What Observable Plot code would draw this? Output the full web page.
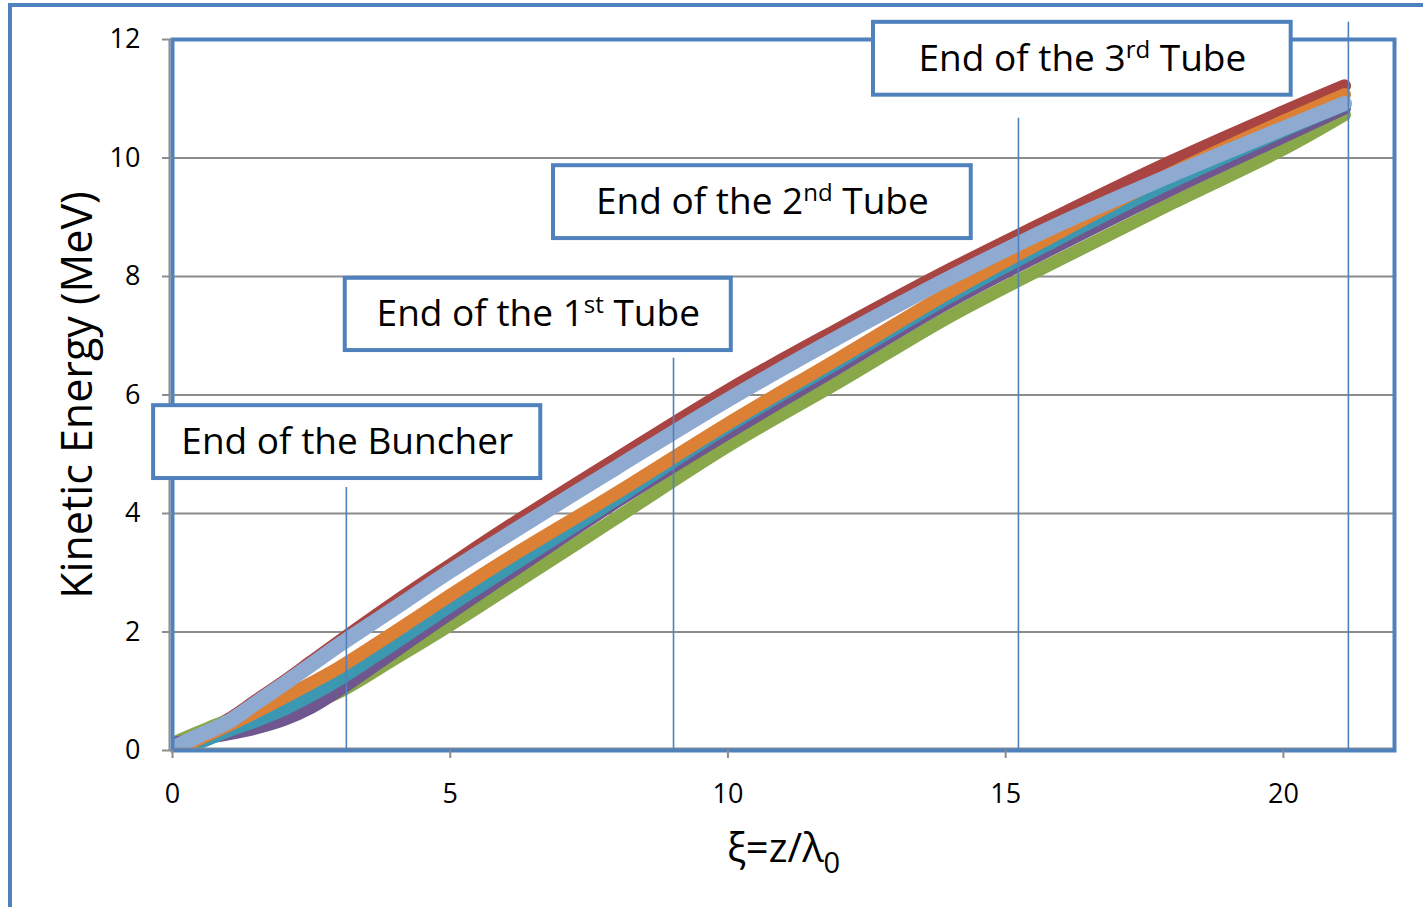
<!DOCTYPE html>
<html><head><meta charset="utf-8">
<script src="https://cdn.jsdelivr.net/npm/d3@7"></script>
<script src="https://cdn.jsdelivr.net/npm/@observablehq/plot@0.6"></script>
<style>
body{margin:0;background:#fff;}
#wrap{position:relative;width:1423px;height:907px;overflow:hidden;background:#fff;}
#outer{position:absolute;left:8px;top:3px;width:1500px;height:1000px;border-left:4px solid #4f81bd;border-top:4px solid #4f81bd;}
#chart{position:absolute;left:0;top:0;}
</style></head><body>
<div id="wrap"><div id="outer"></div><div id="chart"></div></div>
<script>
// ---- data ----
const xi        = [0, 0.5, 1, 1.5, 2, 2.5, 3, 4, 5, 6, 8, 10, 12, 14, 16, 18, 20, 21.1];
const red       = [0.05, 0.28, 0.52, 0.84, 1.16, 1.50, 1.84, 2.50, 3.13, 3.75, 4.93, 6.08, 7.12, 8.12, 9.05, 9.95, 10.78, 11.22];
const green     = [0.12, 0.32, 0.50, 0.56, 0.64, 0.80, 0.99, 1.55, 2.12, 2.72, 3.93, 5.14, 6.22, 7.33, 8.30, 9.24, 10.15, 10.73];
const purple    = [0.12, 0.20, 0.28, 0.38, 0.52, 0.73, 1.02, 1.67, 2.32, 2.95, 4.20, 5.36, 6.47, 7.58, 8.55, 9.48, 10.36, 10.84];
const teal      = [0.00, 0.14, 0.33, 0.50, 0.69, 0.93, 1.20, 1.81, 2.44, 3.05, 4.25, 5.47, 6.56, 7.66, 8.66, 9.60, 10.46, 10.90];
const orange    = [0.00, 0.20, 0.42, 0.65, 0.89, 1.14, 1.40, 2.00, 2.62, 3.22, 4.35, 5.52, 6.62, 7.74, 8.76, 9.75, 10.62, 11.07];
const lightBlue = [0.04, 0.26, 0.48, 0.80, 1.12, 1.45, 1.78, 2.40, 3.03, 3.62, 4.78, 5.92, 6.98, 7.98, 8.90, 9.72, 10.50, 10.92];

const seriesNames  = ["red", "green", "purple", "teal", "orange", "lightBlue"];
const seriesValues = [red, green, purple, teal, orange, lightBlue];
const seriesColors = ["#a84442", "#88a84a", "#70568e", "#3c97b0", "#dc8036", "#8eaad0"];
const seriesWidths = [13, 13, 13, 13, 13, 15];

const xTicks = [0, 5, 10, 15, 20];
const yTicks = [0, 2, 4, 6, 8, 10, 12];
const gridTicks = [2, 4, 6, 8, 10];

// vertical marker lines (position in ξ, top in MeV)
const markerX   = [3.13, 9.02, 15.23, 21.17];
const markerTop = [4.44, 6.62, 10.67, 12.29];

// annotation boxes
const labelMain = ["End of the Buncher", "End of the 1", "End of the 2", "End of the 3"];
const labelSup  = ["", "st", "nd", "rd"];
const labelTail = ["", " Tube", " Tube", " Tube"];
const boxX1 = [-0.34, 3.11, 6.86, 12.62];
const boxX2 = [6.63, 10.06, 14.38, 20.14];
const boxY1 = [4.59, 6.75, 8.64, 11.06];
const boxY2 = [5.82, 7.97, 9.87, 12.29];

const yLabel = "Kinetic Energy (MeV)";
const xLabelMain = "ξ=z/λ";
const xLabelSub = "0";

// ---- build ----
const blue = "#4f81bd", gray = "#8c8c8c";
const lineMarks = seriesNames.map((name, s) =>
  Plot.line(xi.map((x, i) => ({x, y: seriesValues[s][i], name})), {
    x: "x", y: "y", stroke: seriesColors[s], strokeWidth: seriesWidths[s],
    strokeLinecap: "round", strokeLinejoin: "round", curve: "catmull-rom", clip: true
  })
);
const boxIdx = labelMain.map((_, i) => i);
const markIdx = markerX.map((_, i) => i);

const svg = Plot.plot({
  width: 1423, height: 907,
  marginLeft: 172, marginRight: 29, marginTop: 39, marginBottom: 157,
  style: {fontFamily: "'Open Sans', sans-serif", background: "transparent", color: "black", overflow: "visible"},
  x: {domain: [0, 22]},
  y: {domain: [0, 12]},
  marks: [
    Plot.ruleY(gridTicks, {stroke: gray, strokeWidth: 2}),
    ...lineMarks,
    Plot.ruleX([0], {stroke: gray, strokeWidth: 2, dx: -3}),
    Plot.ruleY([0], {stroke: gray, strokeWidth: 2, dy: -2}),
    Plot.ruleX(markIdx, {x: i => markerX[i], y1: 0, y2: i => markerTop[i], stroke: blue, strokeWidth: 1.6}),
    Plot.frame({stroke: blue, strokeWidth: 4}),
    Plot.axisY(yTicks, {tickSize: 10, tickPadding: 22, fontSize: 27, stroke: gray, strokeWidth: 2, fill: "black", label: null, tickFormat: d => String(d)}),
    Plot.axisX(xTicks, {tickSize: 8, tickPadding: 25, fontSize: 27, stroke: gray, strokeWidth: 2, fill: "black", label: null, tickFormat: d => String(d)}),
    Plot.text([yLabel], {text: d => d, frameAnchor: "left", textAnchor: "middle", lineAnchor: "middle", dx: -94, rotate: -90, fontSize: 43, fill: "black"}),
    Plot.text([xLabelMain + xLabelSub], {text: d => d, frameAnchor: "bottom", textAnchor: "middle", lineAnchor: "middle", dy: 99, fontSize: 40, fill: "black"}),
    Plot.rect(boxIdx, {x1: i => boxX1[i], x2: i => boxX2[i], y1: i => boxY1[i], y2: i => boxY2[i], fill: "white", stroke: blue, strokeWidth: 4}),
    Plot.text(boxIdx, {x: i => (boxX1[i] + boxX2[i]) / 2, y: i => (boxY1[i] + boxY2[i]) / 2,
      text: i => labelMain[i] + labelSup[i] + labelTail[i], fontSize: 37, fill: "black"})
  ]
});

function scriptify(root, main, script, tail, shift, size) {
  d3.select(root).selectAll("text").filter(function() { return this.textContent === main + script + tail; })
    .each(function() {
      const t = d3.select(this);
      t.text(null);
      t.append("tspan").text(main);
      t.append("tspan").attr("dy", shift).attr("font-size", size).text(script);
      if (tail) t.append("tspan").attr("dy", -shift).text(tail);
    });
}
labelMain.forEach((m, i) => { if (labelSup[i]) scriptify(svg, m, labelSup[i], labelTail[i], -13, 24); });
scriptify(svg, xLabelMain, xLabelSub, "", 11, 29);

document.getElementById("chart").appendChild(svg);
</script>
</body></html>
